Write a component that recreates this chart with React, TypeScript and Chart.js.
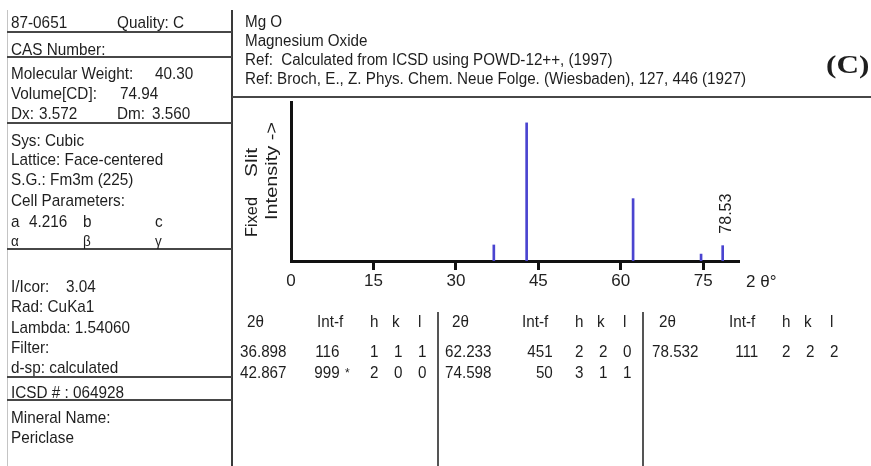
import React, { useEffect, useRef } from 'react';
import { Chart, registerables } from 'chart.js';

Chart.register(...registerables);

// ---- data ----
const twoTheta = [36.898, 42.867, 62.233, 74.598, 78.532];
const intensity = [116, 999, 451, 50, 111];
const hkl = [
  ['1', '1', '1'],
  ['2', '0', '0'],
  ['2', '2', '0'],
  ['3', '1', '1'],
  ['2', '2', '2'],
];
const xTickStep = 15;
const xMax = 81.5;
const yMax = 1150;
const labeledPeak = 78.532;
const labeledPeakText = '78.53';

const W = 871;
const H = 466;
const FONT = "'Liberation Sans', Arial, Helvetica, sans-serif";
const INK = '#1e1e1e';

type TProps = {
  x: number;
  y: number;
  t: string;
  size?: number;
  sx?: number;
  right?: boolean;
  weight?: string | number;
  family?: string;
};

function T({ x, y, t, size = 17, sx = 0.9, right = false, weight = 'normal', family = FONT }: TProps) {
  const style: React.CSSProperties = {
    position: 'absolute',
    top: y - 0.8465 * size,
    whiteSpace: 'pre',
    fontSize: size,
    lineHeight: size + 'px',
    fontFamily: family,
    fontWeight: weight as any,
    color: INK,
    transform: `scaleX(${sx})`,
    transformOrigin: right ? 'right top' : 'left top',
  };
  if (right) style.right = W - x;
  else style.left = x;
  return <div style={style}>{t}</div>;
}

function HL({ x1, x2, y, c = '#474747', h = 2 }: { x1: number; x2: number; y: number; c?: string; h?: number }) {
  return <div style={{ position: 'absolute', left: x1, top: y - h / 2, width: x2 - x1, height: h, background: c }} />;
}
function VL({ x, y1, y2, c = '#3a3a3a', w = 2 }: { x: number; y1: number; y2: number; c?: string; w?: number }) {
  return <div style={{ position: 'absolute', left: x - w / 2, top: y1, width: w, height: y2 - y1, background: c }} />;
}

function drawVertical(ctx: CanvasRenderingContext2D, text: string, bx: number, by: number, size: number, len?: number) {
  ctx.save();
  ctx.font = `${size}px ${FONT}`;
  ctx.translate(bx, by);
  ctx.rotate(-Math.PI / 2);
  if (len) {
    const w = ctx.measureText(text).width;
    ctx.scale(len / w, 1);
  }
  ctx.textBaseline = 'alphabetic';
  ctx.textAlign = 'left';
  ctx.fillText(text, 0, 0);
  ctx.restore();
}

const extrasPlugin = {
  id: 'extras',
  afterDraw(chart: any) {
    const { ctx } = chart;
    const xs = chart.scales.x;
    const ys = chart.scales.y;
    ctx.save();
    ctx.fillStyle = INK;
    // y-axis title
    drawVertical(ctx, 'Fixed', xs.left - 34, ys.bottom - 24, 16, 40);
    drawVertical(ctx, 'Slit', xs.left - 34, ys.bottom - 84, 16, 29);
    drawVertical(ctx, 'Intensity ->', xs.left - 14, ys.bottom - 41, 16, 98);
    // labeled peak
    const idx = twoTheta.indexOf(labeledPeak);
    const px = xs.getPixelForValue(labeledPeak);
    const py = ys.getPixelForValue(intensity[idx]);
    drawVertical(ctx, labeledPeakText, px + 8, py - 12, 16);
    // axis unit
    ctx.font = `17px ${FONT}`;
    ctx.textBaseline = 'alphabetic';
    ctx.textAlign = 'left';
    ctx.fillText('2 θ°', xs.right + 7, ys.bottom + 26);
    ctx.restore();
  },
};

function PatternChart() {
  const ref = useRef<HTMLCanvasElement | null>(null);
  useEffect(() => {
    if (!ref.current) return;
    const chart = new Chart(ref.current, {
      type: 'bar',
      data: {
        datasets: [
          {
            data: twoTheta.map((x, i) => ({ x, y: intensity[i] })) as any,
            backgroundColor: '#4a44d0',
            borderWidth: 0,
            barThickness: 2,
          },
        ],
      },
      options: {
        animation: false,
        responsive: false,
        devicePixelRatio: 1,
        layout: { padding: { left: 291, right: W - 739, top: 102, bottom: 165 } },
        plugins: { legend: { display: false }, tooltip: { enabled: false }, title: { display: false } },
        scales: {
          x: {
            type: 'linear',
            min: 0,
            max: xMax,
            offset: false,
            grid: {
              display: true,
              offset: false,
              drawOnChartArea: false,
              drawTicks: true,
              tickLength: 9,
              tickWidth: 3,
              tickColor: (c: any) => (c.tick && c.tick.value === 0 ? 'rgba(0,0,0,0)' : '#111'),
            },
            border: { display: true, width: 3, color: '#111' },
            ticks: {
              stepSize: xTickStep,
              includeBounds: false,
              autoSkip: false,
              maxRotation: 0,
              minRotation: 0,
              padding: 1,
              color: '#222',
              font: { family: FONT, size: 17 },
              callback: (v: any) => String(v),
            },
            afterFit: (s: any) => {
              s.height = 40;
            },
          } as any,
          y: {
            type: 'linear',
            min: 0,
            max: yMax,
            grid: { display: false },
            border: { display: true, width: 3, color: '#111' },
            ticks: { display: false },
            afterFit: (s: any) => {
              s.width = 0;
            },
          } as any,
        },
      },
      plugins: [extrasPlugin],
    });
    return () => chart.destroy();
  }, []);
  return <canvas ref={ref} width={W} height={H} style={{ position: 'absolute', left: 0, top: 0, width: W, height: H }} />;
}

export default function App() {
  const secBase = [240, 445, 652];
  const intEnd = [340, 553, 758];
  const hklOff = [130, 154, 178];
  const hdrY = 328;
  const rowY = [358, 379];
  const maxI = Math.max(...intensity);

  return (
    <div style={{ position: 'absolute', left: 0, top: 0, width: W, height: H, overflow: 'hidden', background: '#fff' }}>
      <PatternChart />

      {/* frame lines */}
      <VL x={7} y1={10} y2={H} c="#c4c4c4" w={1} />
      <VL x={232} y1={10} y2={H} />
      <HL x1={7} x2={232} y={32} />
      <HL x1={7} x2={232} y={57} />
      <HL x1={7} x2={232} y={123} />
      <HL x1={7} x2={232} y={249} />
      <HL x1={7} x2={232} y={377} />
      <HL x1={7} x2={232} y={400} />
      <HL x1={232} x2={W} y={97} />
      <VL x={438} y1={312} y2={H} c="#555" />
      <VL x={643} y1={312} y2={H} c="#555" />

      {/* left panel */}
      <T x={11} y={28} t="87-0651" />
      <T x={117} y={28} t="Quality: C" />
      <T x={11} y={55} t="CAS Number:" />
      <T x={11} y={79} t="Molecular Weight:" />
      <T x={155} y={79} t="40.30" />
      <T x={11} y={99} t="Volume[CD]:" />
      <T x={120} y={99} t="74.94" />
      <T x={11} y={119} t="Dx:" />
      <T x={39} y={119} t="3.572" />
      <T x={117} y={119} t="Dm:" />
      <T x={152} y={119} t="3.560" />
      <T x={11} y={146} t="Sys: Cubic" />
      <T x={11} y={165} t="Lattice: Face-centered" />
      <T x={11} y={185} t="S.G.: Fm3m (225)" />
      <T x={11} y={206} t="Cell Parameters:" />
      <T x={11} y={227} t="a" />
      <T x={29} y={227} t="4.216" />
      <T x={83} y={227} t="b" />
      <T x={155} y={227} t="c" />
      <T x={11} y={246} t="α" size={15} />
      <T x={83} y={246} t="β" size={15} />
      <T x={155} y={246} t="γ" size={15} />
      <T x={11} y={292} t="I/Icor:" />
      <T x={66} y={292} t="3.04" />
      <T x={11} y={312} t="Rad: CuKa1" />
      <T x={11} y={333} t="Lambda: 1.54060" />
      <T x={11} y={353} t="Filter:" />
      <T x={11} y={373} t="d-sp: calculated" />
      <T x={11} y={398} t="ICSD # : 064928" />
      <T x={11} y={423} t="Mineral Name:" />
      <T x={11} y={443} t="Periclase" />

      {/* header */}
      <T x={245} y={28} t="Mg O" size={16} sx={0.95} />
      <T x={245} y={47} t="Magnesium Oxide" size={16} sx={0.95} />
      <T x={245} y={66} t="Ref:  Calculated from ICSD using POWD-12++, (1997)" size={16} sx={0.95} />
      <T x={245} y={85} t="Ref: Broch, E., Z. Phys. Chem. Neue Folge. (Wiesbaden), 127, 446 (1927)" size={16} sx={0.95} />
      <T x={826} y={74} t="(C)" size={26} sx={1.2} weight="bold" family="'Liberation Serif', 'Times New Roman', serif" />

      {/* table */}
      {secBase.map((b, s) => (
        <React.Fragment key={'h' + s}>
          <T x={b + 7} y={hdrY} t="2θ" size={16} sx={0.95} />
          <T x={b + 77} y={hdrY} t="Int-f" size={16} sx={0.95} />
          <T x={b + hklOff[0]} y={hdrY} t="h" size={16} sx={0.95} />
          <T x={b + hklOff[1] - 2} y={hdrY} t="k" size={16} sx={0.95} />
          <T x={b + hklOff[2]} y={hdrY} t="l" size={16} sx={0.95} />
        </React.Fragment>
      ))}
      {twoTheta.map((v, i) => {
        const s = Math.floor(i / 2);
        const r = i % 2;
        const b = secBase[s];
        const y = rowY[r];
        return (
          <React.Fragment key={'r' + i}>
            <T x={b} y={y} t={v.toFixed(3)} size={16} sx={0.95} />
            <T x={intEnd[s]} y={y} t={String(intensity[i])} size={16} sx={0.95} right />
            {intensity[i] === maxI ? <T x={intEnd[s] + 5} y={y - 2} t="*" size={12} sx={1} /> : null}
            <T x={b + hklOff[0]} y={y} t={hkl[i][0]} size={16} sx={0.95} />
            <T x={b + hklOff[1]} y={y} t={hkl[i][1]} size={16} sx={0.95} />
            <T x={b + hklOff[2]} y={y} t={hkl[i][2]} size={16} sx={0.95} />
          </React.Fragment>
        );
      })}
    </div>
  );
}
